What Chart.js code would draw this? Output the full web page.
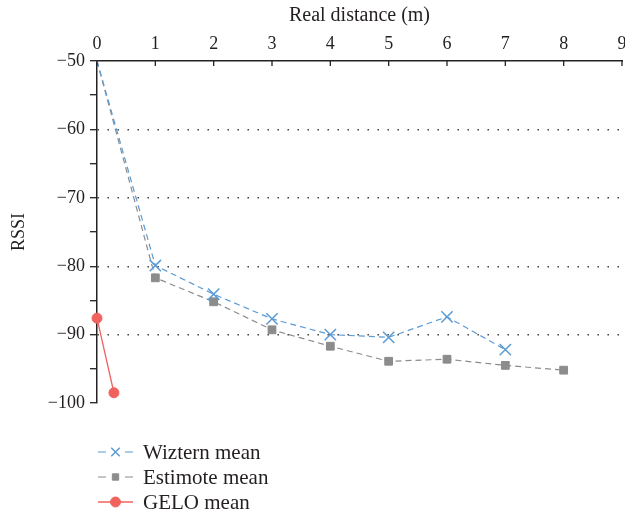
<!DOCTYPE html>
<html>
<head>
<meta charset="utf-8">
<script src="https://cdn.jsdelivr.net/npm/chart.js@4.4.0/dist/chart.umd.min.js"></script>
<style>
  html, body { margin: 0; padding: 0; background: #fff; overflow: hidden; }
  #wrap { width: 640px; height: 515px; }
</style>
</head>
<body>
<div id="wrap"><canvas id="rssiChart" width="640" height="515"></canvas></div>
<script>
// Valores
const wizternDist = [0, 1, 2, 3, 4, 5, 6, 7];
const wizternRssi = [-50, -79.9, -84.1, -87.7, -90.0, -90.4, -87.4, -92.2];
const estimoteDist = [0, 1, 2, 3, 4, 5, 6, 7, 8];
const estimoteRssi = [-50, -81.7, -85.2, -89.3, -91.7, -93.9, -93.6, -94.5, -95.2];
const geloDist = [0, 0.29];
const geloRssi = [-87.6, -98.5];
const seriesNames = ['Wiztern mean', 'Estimote mean', 'GELO mean'];

const serif = '"Liberation Serif", "DejaVu Serif", serif';

function toPoints(xs, ys) {
    return xs.map((x, i) => ({ x: x, y: ys[i] }));
}
function minus(v) {
    return v < 0 ? '\u2212' + Math.abs(v) : String(v);
}

// Marcas del eje x hacia dentro
const innerTicks = {
    id: 'innerTicks',
    afterDraw(chart) {
        const xs = chart.scales.x;
        const ctx = chart.ctx;
        ctx.save();
        ctx.strokeStyle = '#222';
        ctx.lineWidth = 1.3;
        xs.ticks.forEach(t => {
            const px = xs.getPixelForValue(t.value);
            ctx.beginPath();
            ctx.moveTo(px, xs.bottom);
            ctx.lineTo(px, xs.bottom + 5);
            ctx.stroke();
        });
        ctx.restore();
    }
};

// Leyenda con línea y marcador
const lineLegend = {
    id: 'lineLegend',
    afterDraw(chart) {
        const ctx = chart.ctx;
        const x0 = 98, x1 = 133, xm = 115.5, tx = 143;
        const rows = [452, 477, 502];
        chart.data.datasets.forEach((ds, i) => {
            const y = rows[i];
            ctx.save();
            ctx.strokeStyle = ds.borderColor;
            ctx.lineWidth = ds.borderWidth;
            if (ds.borderDash) {
                // dos trazos cortos a los lados del marcador
                ctx.beginPath();
                ctx.moveTo(x0, y); ctx.lineTo(x0 + 8, y);
                ctx.moveTo(x1 - 8, y); ctx.lineTo(x1, y);
                ctx.stroke();
            } else {
                ctx.beginPath();
                ctx.moveTo(x0, y); ctx.lineTo(x1, y);
                ctx.stroke();
            }
            ctx.fillStyle = ds.pointBackgroundColor;
            ctx.strokeStyle = ds.pointBorderColor;
            ctx.lineWidth = ds.pointBorderWidth;
            Chart.helpers.drawPoint(ctx, {
                pointStyle: ds.pointStyle,
                radius: ds.legendRadius,
                borderWidth: ds.pointBorderWidth
            }, xm, y);
            ctx.fillStyle = '#231f20';
            ctx.font = '21px ' + serif;
            ctx.textBaseline = 'middle';
            ctx.fillText(ds.label, tx, y + 1);
            ctx.restore();
        });
    }
};

const blue = '#5b9bd5';
const gray = '#8c8c8c';
const red = '#f0625e';

new Chart(document.getElementById('rssiChart'), {
    type: 'line',
    data: {
        datasets: [{
            label: seriesNames[0],
            data: toPoints(wizternDist, wizternRssi),
            borderColor: blue,
            borderWidth: 1.2,
            borderDash: [6, 4],
            pointStyle: 'crossRot',
            pointRadius: wizternDist.map((d, i) => i === 0 ? 0 : 8),
            pointBorderColor: blue,
            pointBackgroundColor: blue,
            pointBorderWidth: 1.5,
            legendRadius: 6,
            tension: 0,
            clip: false
        }, {
            label: seriesNames[1],
            data: toPoints(estimoteDist, estimoteRssi),
            borderColor: gray,
            borderWidth: 1.2,
            borderDash: [6, 4],
            pointStyle: 'rect',
            pointRadius: estimoteDist.map((d, i) => i === 0 ? 0 : 5.5),
            pointBorderColor: gray,
            pointBackgroundColor: gray,
            pointBorderWidth: 1,
            legendRadius: 4.5,
            tension: 0,
            clip: false
        }, {
            label: seriesNames[2],
            data: toPoints(geloDist, geloRssi),
            borderColor: red,
            borderWidth: 1.3,
            pointStyle: 'circle',
            pointRadius: 5,
            pointBorderColor: red,
            pointBackgroundColor: red,
            pointBorderWidth: 1,
            legendRadius: 5,
            tension: 0,
            clip: false
        }]
    },
    options: {
        responsive: false,
        animation: false,
        layout: { padding: { top: 0, right: 18, bottom: 112, left: 0 } },
        plugins: {
            legend: { display: false },
            tooltip: { enabled: false }
        },
        scales: {
            x: {
                type: 'linear',
                position: 'top',
                min: 0,
                max: 9,
                afterFit(scale) { scale.height = 61; },
                ticks: {
                    stepSize: 1,
                    color: '#231f20',
                    font: { family: serif, size: 18 },
                    padding: 6,
                    maxRotation: 0
                },
                grid: { drawOnChartArea: false, drawTicks: false },
                border: { color: '#222', width: 1.5 },
                title: {
                    display: true,
                    text: 'Real distance (m)',
                    color: '#231f20',
                    font: { family: serif, size: 20 },
                    padding: { top: 4, bottom: 1 }
                }
            },
            y: {
                min: -100,
                max: -50,
                afterFit(scale) { scale.width = 97; },
                ticks: {
                    stepSize: 5,
                    color: '#231f20',
                    font: { family: serif, size: 18 },
                    padding: 5,
                    callback: v => (v % 10 === 0 ? minus(v) : '')
                },
                grid: {
                    color: c => (c.tick && c.tick.value % 10 === 0 && c.tick.value !== -50 && c.tick.value !== -100) ? '#333' : 'rgba(0,0,0,0)',
                    lineWidth: 1.4,
                    tickColor: '#222',
                    tickLength: 7,
                    tickWidth: 1.3
                },
                border: { color: '#222', width: 1.5, dash: [1.4, 8.6] },
                title: {
                    display: true,
                    text: 'RSSI',
                    color: '#231f20',
                    font: { family: serif, size: 18 },
                    padding: { top: 8, bottom: 0 }
                }
            }
        }
    },
    plugins: [innerTicks, lineLegend]
});
</script>
</body>
</html>
